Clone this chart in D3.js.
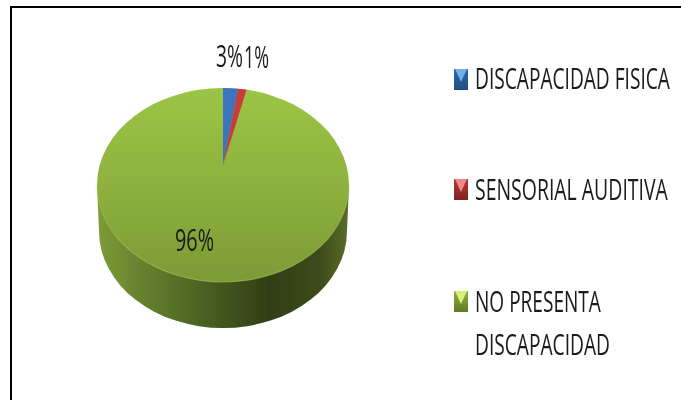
<!DOCTYPE html>
<html>
<head>
<meta charset="utf-8">
<script src="https://cdn.jsdelivr.net/npm/d3@7"></script>
<style>
  html, body { margin: 0; padding: 0; background: #fff; }
  svg { display: block; }
  text { font-family: "Open Sans", "Noto Sans", sans-serif; fill: #1a1a1a; }
</style>
</head>
<body>
<div id="container"></div>
<script>
const categories = ['DISCAPACIDAD FISICA', 'SENSORIAL AUDITIVA', 'NO PRESENTA DISCAPACIDAD'];
// slice sizes as they measure on the picture, the printed labels are rounded differently
const sliceValues = [1.9, 1.1, 97];
const percentLabels = ['3%', '1%', '96%'];
const legendLines = [['DISCAPACIDAD FISICA'], ['SENSORIAL AUDITIVA'], ['NO PRESENTA', 'DISCAPACIDAD']];

const width = 681;
const height = 400;

const svg = d3.select('#container').append('svg')
  .attr('width', width)
  .attr('height', height);

const defs = svg.append('defs');

defs.append('filter').attr('id', 'soft')
  .append('feGaussianBlur').attr('stdDeviation', 0.6);

function gradient(id, stops, horizontal) {
  const g = defs.append('linearGradient').attr('id', id)
    .attr('x1', 0).attr('y1', 0)
    .attr('x2', horizontal ? 1 : 0).attr('y2', horizontal ? 0 : 1);
  stops.forEach(s => g.append('stop').attr('offset', s[0]).attr('stop-color', s[1]));
}

gradient('top', [[0, '#9bc545'], [0.5, '#8eb13f'], [1, '#7c9a36']]);
gradient('side', [[0, '#7e9c36'], [0.15, '#698530'], [0.45, '#475d20'], [0.68, '#323e16'], [0.88, '#3c4a1a'], [1, '#5a6e28']], true);
gradient('swatch0', [[0, '#2f66a8'], [1, '#1f4e85']]);
gradient('swatch1', [[0, '#b83836'], [1, '#7f2422']]);
gradient('swatch2', [[0, '#8fb33f'], [1, '#5f7a28']]);
const swatchLights = ['#6fb0ea', '#f08a88', '#d8f07c'];

// frame: only the top and left edges show in the picture
svg.append('path')
  .attr('d', 'M11,400V7H681')
  .attr('fill', 'none')
  .attr('stroke', '#000')
  .attr('stroke-width', 2);

// pie
const pieG = svg.append('g').attr('filter', 'url(#soft)');
const cx = 223;
const cy = 185;
const rx = 126;
const ry = 97;
const depth = 46;
const apexY = 165;

const pie = d3.pie().sort(null).value(d => d);
const slices = pie(sliceValues);

const point = a => [cx + rx * Math.sin(a), cy - ry * Math.cos(a)];

// side wall
const wallRx = rx - 2;
pieG.append('path')
  .attr('d', `M${cx - rx},${cy}L${cx - wallRx},${cy + depth}`
    + `A${wallRx},${ry} 0 0 0 ${cx + wallRx},${cy + depth}L${cx + rx},${cy}Z`)
  .attr('fill', 'url(#side)');

// top face
const colors = ['#3b74bd', '#c63d3a', 'url(#top)'];
pieG.append('ellipse')
  .attr('cx', cx).attr('cy', cy).attr('rx', rx).attr('ry', ry)
  .attr('fill', colors[2]);
pieG.append('path')
  .attr('d', `M${cx - rx},${cy}A${rx},${ry} 0 0 0 ${cx + rx},${cy}`)
  .attr('fill', 'none')
  .attr('stroke', '#a3c659')
  .attr('stroke-opacity', 0.55)
  .attr('stroke-width', 1.2);

pieG.selectAll('path.slice')
  .data(slices.slice(0, 2))
  .enter().append('path')
  .classed('slice', true)
  .attr('d', d => {
    const p0 = point(d.startAngle);
    const p1 = point(d.endAngle);
    return `M${cx},${apexY}L${p0[0]},${p0[1]}A${rx},${ry} 0 0 1 ${p1[0]},${p1[1]}Z`;
  })
  .attr('fill', (d, i) => colors[i]);

// text squeezed sideways to the measured width, the original font is tall and narrow
function stretched(parent, str, x, y, w, size) {
  const t = parent.append('text')
    .attr('font-size', size)
    .text(str);
  const natural = t.node().getComputedTextLength();
  t.attr('transform', `translate(${x},${y}) scale(${w / natural},1)`);
  return t;
}

// percent labels
const labelPos = [
  { x: 216, y: 67, w: 27 },
  { x: 244, y: 68, w: 25 },
  { x: 175, y: 251, w: 39 }
];

const textG = svg.append('g').attr('filter', 'url(#soft)');
percentLabels.forEach((s, i) => {
  const p = labelPos[i];
  stretched(textG, s, p.x, p.y, p.w, 31);
});

// legend
const swatchTop = [69, 179, 291];
const baselines = [[89], [200], [312, 355]];
const lineWidths = [[195], [193], [126, 135]];
const legendG = svg.append('g').attr('filter', 'url(#soft)');
categories.forEach((c, i) => {
  const top = swatchTop[i];
  legendG.append('rect')
    .attr('x', 454).attr('y', top)
    .attr('width', 14).attr('height', 21)
    .attr('fill', `url(#swatch${i})`);
  legendG.append('path')
    .attr('d', `M455,${top}H467L461,${top + 13}Z`)
    .attr('fill', swatchLights[i]);
  legendLines[i].forEach((line, j) => {
    stretched(legendG, line, 475, baselines[i][j], lineWidths[i][j], 30);
  });
});
</script>
</body>
</html>
